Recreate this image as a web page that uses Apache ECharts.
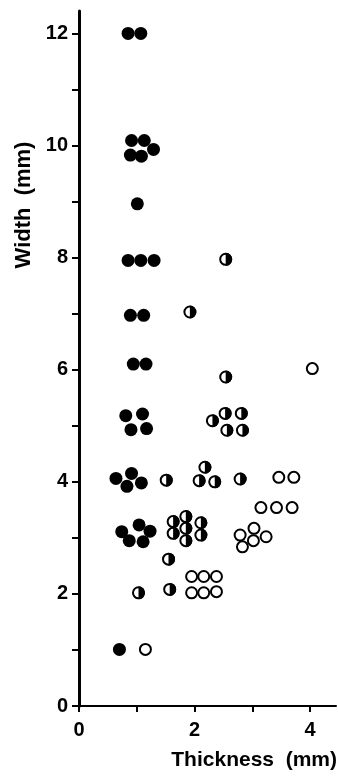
<!DOCTYPE html>
<html>
<head>
<meta charset="utf-8">
<script src="https://cdn.jsdelivr.net/npm/echarts@6/dist/echarts.min.js"></script>
<style>
  html, body { margin: 0; padding: 0; background: #fff; }
  #chart { width: 338px; height: 776px; }
</style>
</head>
<body>
<div id="chart"></div>
<script>
// [thickness (mm), width (mm)]
const filledPts = [
  [0.85, 12.0], [1.07, 12.0],
  [0.91, 10.09], [1.13, 10.09], [1.29, 9.93], [0.89, 9.83], [1.08, 9.81],
  [1.01, 8.96],
  [0.85, 7.95], [1.07, 7.95], [1.30, 7.95],
  [0.89, 6.97], [1.12, 6.97],
  [0.94, 6.10], [1.16, 6.10],
  [0.81, 5.18], [1.10, 5.21], [0.90, 4.93], [1.17, 4.95],
  [0.64, 4.06], [0.91, 4.15], [0.83, 3.92], [1.08, 3.98],
  [0.74, 3.11], [1.04, 3.23], [1.23, 3.12], [0.87, 2.95], [1.11, 2.93],
  [0.70, 1.01]
];
const halfPts = [
  [2.54, 7.97], [1.92, 7.03], [2.54, 5.87],
  [2.31, 5.09], [2.53, 5.22], [2.81, 5.22], [2.56, 4.92], [2.83, 4.92],
  [1.51, 4.03], [2.08, 4.02], [2.18, 4.26], [2.35, 4.00], [2.79, 4.05],
  [1.63, 3.29], [1.63, 3.08], [1.85, 3.38], [1.85, 3.17], [1.85, 2.95], [2.11, 3.27], [2.11, 3.05],
  [1.55, 2.62], [1.03, 2.02], [1.57, 2.08]
];
const openPts = [
  [4.04, 6.02],
  [3.46, 4.08], [3.72, 4.08],
  [3.15, 3.54], [3.42, 3.54], [3.69, 3.54],
  [2.79, 3.05], [3.03, 3.17], [3.24, 3.02], [3.02, 2.95], [2.83, 2.84],
  [1.95, 2.31], [2.16, 2.31], [2.38, 2.31], [1.95, 2.02], [2.16, 2.02], [2.38, 2.04],
  [1.15, 1.01]
];

// tick and label positions
const xTicks = [0, 1, 2, 3, 4];
const xLabels = [0, 2, 4];
const yTicks = [0, 1, 2, 3, 4, 5, 6, 7, 8, 9, 10, 11, 12];
const yLabels = [0, 2, 4, 6, 8, 10, 12];

const FONT = "Liberation Sans";
const labelStyle = { color: "#000", fontFamily: FONT, fontWeight: "bold", fontSize: 20 };

const chart = echarts.init(document.getElementById("chart"), null, { renderer: "canvas" });

chart.setOption({
  animation: false,
  grid: { left: 79, right: 2, top: 11, bottom: 70 },
  xAxis: {
    type: "value",
    min: 0,
    max: 4.45,
    splitLine: { show: false },
    axisLine: { show: true, onZero: false, lineStyle: { color: "#000", width: 2 } },
    axisTick: { show: true, customValues: xTicks, length: 6, lineStyle: { color: "#000", width: 2 } },
    axisLabel: { customValues: xLabels, margin: 14, ...labelStyle }
  },
  yAxis: {
    type: "value",
    min: 0,
    max: 12.4,
    splitLine: { show: false },
    axisLine: { show: true, onZero: false, lineStyle: { color: "#000", width: 3 } },
    axisTick: { show: true, customValues: yTicks, length: 7, lineStyle: { color: "#000", width: 2 } },
    axisLabel: { customValues: yLabels, margin: 11, ...labelStyle }
  },
  graphic: [
    {
      type: "text",
      right: 1,
      top: 750,
      style: { text: "Thickness  (mm)", fill: "#000", font: "bold 21px " + FONT }
    },
    {
      type: "text",
      x: 24,
      y: 205,
      rotation: Math.PI / 2,
      style: {
        text: "Width  (mm)", fill: "#000", font: "bold 22px " + FONT,
        textAlign: "center", textVerticalAlign: "middle"
      }
    }
  ],
  series: [
    {
      // filled circles
      type: "scatter",
      data: filledPts,
      symbol: "circle",
      symbolSize: 13,
      itemStyle: { color: "#000", opacity: 1 }
    },
    {
      // open circles
      type: "scatter",
      data: openPts,
      symbol: "circle",
      symbolSize: 11,
      itemStyle: { color: "#fff", borderColor: "#000", borderWidth: 2, opacity: 1 }
    },
    {
      // half-filled: outline
      type: "scatter",
      data: halfPts,
      symbol: "circle",
      symbolSize: 11,
      itemStyle: { color: "#fff", borderColor: "#000", borderWidth: 2, opacity: 1 }
    },
    {
      // half-filled: right half
      type: "scatter",
      data: halfPts,
      symbol: "path://M0,0 A10,10 0 0 1 0,20 Z",
      symbolSize: [6.5, 13],
      symbolOffset: ["50%", 0],
      itemStyle: { color: "#000", opacity: 1 }
    }
  ]
});
</script>
</body>
</html>
